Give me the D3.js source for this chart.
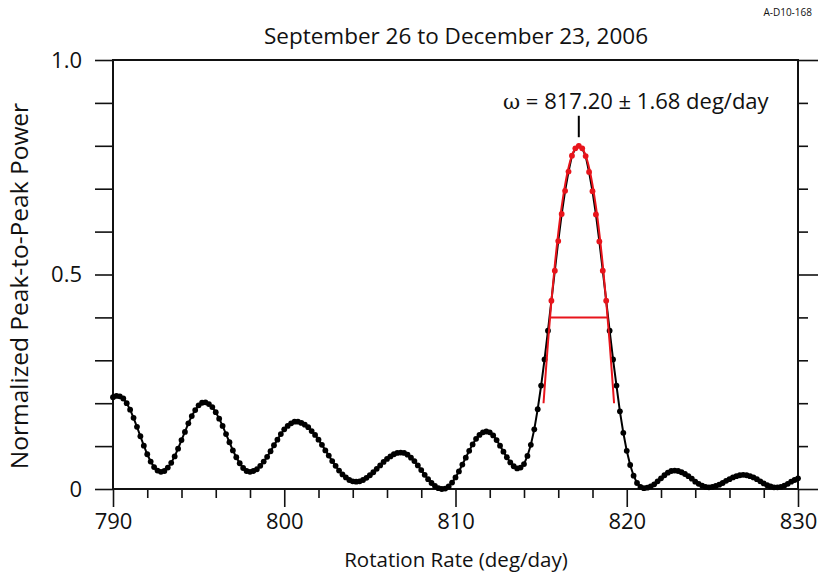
<!DOCTYPE html>
<html lang="en">
<head>
    <meta charset="UTF-8">
    <title>Rotation rate periodogram</title>
    <script src="https://d3js.org/d3.v7.min.js"></script>
    <style>
        body { margin: 0; background: #fff; }
        text { font-family: "Open Sans", sans-serif; fill: #111; }
    </style>
</head>
<body>
<script>
    const WIDTH = 822, HEIGHT = 577;
    const margin = {top: 60, right: 24, bottom: 88, left: 113};

    // sampling grid of the periodogram (deg/day)
    const rateStart = 790, rateStep = 0.2;
    // normalized peak-to-peak power, one value per grid step, 790.0 .. 830.0
    const power = [
        0.214,0.217,0.216,0.211,0.200,0.185,0.166,0.145,0.123,0.101,
        0.081,0.064,0.051,0.043,0.040,0.042,0.050,0.061,0.076,0.094,
        0.114,0.133,0.153,0.170,0.184,0.195,0.201,0.202,0.198,0.191,
        0.179,0.164,0.147,0.128,0.109,0.090,0.074,0.060,0.049,0.042,
        0.040,0.042,0.046,0.054,0.064,0.075,0.088,0.102,0.115,0.128,
        0.139,0.147,0.153,0.157,0.157,0.154,0.150,0.144,0.135,0.126,
        0.115,0.103,0.090,0.078,0.065,0.054,0.043,0.034,0.027,0.021,
        0.018,0.017,0.018,0.021,0.026,0.032,0.039,0.047,0.055,0.063,
        0.070,0.076,0.081,0.084,0.085,0.084,0.080,0.073,0.065,0.055,
        0.044,0.033,0.023,0.014,0.007,0.002,0.000,0.001,0.006,0.015,
        0.027,0.041,0.057,0.073,0.089,0.104,0.117,0.126,0.132,0.134,
        0.132,0.125,0.114,0.101,0.087,0.074,0.062,0.053,0.048,0.050,
        0.058,0.077,0.103,0.139,0.186,0.241,0.302,0.369,0.439,0.509,
        0.578,0.641,0.695,0.740,0.777,0.794,0.800,0.794,0.776,0.739,
        0.694,0.640,0.577,0.509,0.439,0.369,0.302,0.241,0.181,0.131,
        0.089,0.056,0.031,0.014,0.005,0.002,0.003,0.006,0.011,0.018,
        0.025,0.032,0.038,0.042,0.043,0.042,0.039,0.035,0.030,0.024,
        0.017,0.012,0.008,0.005,0.004,0.005,0.007,0.010,0.014,0.019,
        0.023,0.027,0.030,0.032,0.033,0.032,0.030,0.027,0.023,0.018,
        0.013,0.009,0.006,0.004,0.004,0.005,0.008,0.012,0.017,0.021,
        0.025
    ];
    // points used in the peak fit (drawn red)
    const fitWindow = [815.6, 818.8];
    // fitted curve
    const fitRate  = [815.14,815.4,815.6,815.8,816.0,816.2,816.4,816.6,816.8,817.0,817.2,
                      817.4,817.6,817.8,818.0,818.2,818.4,818.6,818.8,819.0,819.26];
    const fitPower = [0.200,0.341,0.437,0.522,0.596,0.658,0.709,0.749,0.777,0.794,0.800,
                      0.794,0.777,0.749,0.709,0.658,0.596,0.522,0.437,0.341,0.200];
    const peakRate = 817.20, peakErr = 1.68, halfMax = 0.40;
    const peakMark = [0.82, 0.87];

    const xMajor = [790, 800, 810, 820, 830];
    const xMinor = [792, 794, 796, 798, 802, 804, 806, 808, 812, 814, 816, 818, 822, 824, 826, 828];
    const yMajor = [0, 0.5, 1.0];
    const yMinor = [0.1, 0.2, 0.3, 0.4, 0.6, 0.7, 0.8, 0.9];
    const yLabels = {0: "0", 0.5: "0.5", 1: "1.0"};

    const title = "September 26 to December 23, 2006";
    const xTitle = "Rotation Rate (deg/day)";
    const yTitle = "Normalized Peak-to-Peak Power";
    const figId = "A-D10-168";

    const data = power.map((p, i) => ({rate: rateStart + i * rateStep, p: p}));

    const svg = d3.select("body").append("svg").attr("width", WIDTH).attr("height", HEIGHT);
    const x = d3.scaleLinear().domain([790, 830]).range([margin.left, WIDTH - margin.right]);
    const y = d3.scaleLinear().domain([0, 1]).range([HEIGHT - margin.bottom, margin.top]);
    const x0 = x.range()[0], x1 = x.range()[1], y0 = y.range()[0], y1 = y.range()[1];

    function styleAxis(g) {
        g.select(".domain").remove();
        g.selectAll("line").attr("stroke", "#111").attr("stroke-width", 1.6);
        g.selectAll("text").style("font-family", '"Open Sans", sans-serif').style("font-size", "22px").attr("fill", "#111");
    }

    // bottom
    svg.append("g").attr("transform", `translate(0,${y0})`)
        .call(d3.axisBottom(x).tickValues(xMajor).tickSize(18).tickPadding(6).tickFormat(d3.format("d")))
        .call(styleAxis);
    svg.append("g").attr("transform", `translate(0,${y0})`)
        .call(d3.axisBottom(x).tickValues(xMinor).tickSize(9).tickFormat(""))
        .call(styleAxis);
    // left
    svg.append("g").attr("transform", `translate(${x0},0)`)
        .call(d3.axisLeft(y).tickValues(yMajor).tickSize(18).tickPadding(13).tickFormat(d => yLabels[d]))
        .call(styleAxis);
    svg.append("g").attr("transform", `translate(${x0},0)`)
        .call(d3.axisLeft(y).tickValues(yMinor).tickSize(18).tickFormat(""))
        .call(styleAxis);
    // right
    svg.append("g").attr("transform", `translate(${x1},0)`)
        .call(d3.axisRight(y).tickValues(yMajor).tickSize(20).tickFormat(""))
        .call(styleAxis);
    svg.append("g").attr("transform", `translate(${x1},0)`)
        .call(d3.axisRight(y).tickValues(yMinor).tickSize(10).tickFormat(""))
        .call(styleAxis);

    // frame
    svg.append("rect").attr("x", x0).attr("y", y1).attr("width", x1 - x0).attr("height", y0 - y1)
        .attr("fill", "none").attr("stroke", "#111").attr("stroke-width", 2);

    // data line and dots
    const line = d3.line().x(d => x(d.rate)).y(d => y(d.p));
    svg.append("path").datum(data).attr("d", line)
        .attr("fill", "none").attr("stroke", "#000").attr("stroke-width", 2);

    const inFit = d => d.rate >= fitWindow[0] - 1e-6 && d.rate <= fitWindow[1] + 1e-6;
    svg.append("g").selectAll("circle").data(data.filter(d => !inFit(d))).join("circle")
        .attr("cx", d => x(d.rate)).attr("cy", d => y(d.p)).attr("r", 2.9).attr("fill", "#000");

    // fit
    const fitLine = d3.line().x(d => x(d[0])).y(d => y(d[1])).curve(d3.curveCatmullRom);
    svg.append("path").datum(fitRate.map((r, i) => [r, fitPower[i]])).attr("d", fitLine)
        .attr("fill", "none").attr("stroke", "#e8141b").attr("stroke-width", 2);
    svg.append("g").selectAll("circle").data(data.filter(inFit)).join("circle")
        .attr("cx", d => x(d.rate)).attr("cy", d => y(d.p)).attr("r", 2.9).attr("fill", "#e8141b");
    svg.append("line")
        .attr("x1", x(peakRate - peakErr)).attr("x2", x(peakRate + peakErr))
        .attr("y1", y(halfMax)).attr("y2", y(halfMax))
        .attr("stroke", "#e8141b").attr("stroke-width", 2);

    // peak marker + label
    svg.append("line").attr("x1", x(peakRate)).attr("x2", x(peakRate))
        .attr("y1", y(peakMark[0])).attr("y2", y(peakMark[1]))
        .attr("stroke", "#000").attr("stroke-width", 2);
    const ann = svg.append("text").attr("x", 503).attr("y", 109).style("font-size", "22px");
    ann.append("tspan").text("ω").style("font-family", '"DejaVu Serif", serif').style("font-size", "21px");
    ann.append("tspan").text(" = ");
    ann.append("tspan").text(peakRate.toFixed(2));
    ann.append("tspan").text(" ± ");
    ann.append("tspan").text(peakErr.toFixed(2) + " deg/day");

    // titles
    svg.append("text").attr("x", 456).attr("y", 44).attr("text-anchor", "middle")
        .style("font-size", "22.5px").text(title);
    svg.append("text").attr("x", 456).attr("y", 567).attr("text-anchor", "middle")
        .style("font-size", "20.5px").text(xTitle);
    svg.append("text").attr("transform", "translate(28,286) rotate(-90)").attr("text-anchor", "middle")
        .style("font-size", "24.5px").text(yTitle);
    svg.append("text").attr("x", 812).attr("y", 16).attr("text-anchor", "end")
        .style("font-size", "10px").text(figId);
</script>
</body>
</html>
